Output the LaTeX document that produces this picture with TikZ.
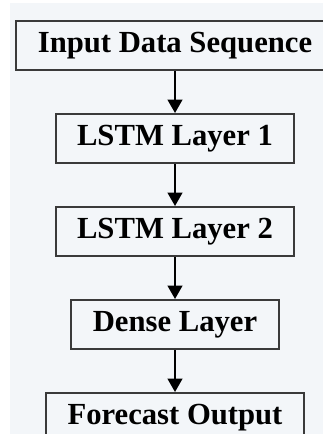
\documentclass[tikz,border=0pt]{standalone}
\usepackage{fontspec}
\setmainfont{Liberation Serif}
\usetikzlibrary{arrows.meta,positioning}
\definecolor{fond}{HTML}{F3F6F9}
\definecolor{ink}{HTML}{3A3A3A}

\begin{document}
\begin{tikzpicture}[x=0.75pt, y=-0.75pt, >={Triangle[length=10pt,width=11pt]},
    font=\fontsize{23}{27}\selectfont\bfseries,
    couche/.style={draw=ink, line width=1.5pt, fill=fond, inner xsep=16pt, inner ysep=0pt, minimum height=36.75pt},
    node distance=31.5pt]
    \useasboundingbox (0,0) rectangle (323,434);
    \fill[fond] (10,3) rectangle (323,434);
    % empilement des couches du modèle
    \node[couche] (entree) at (175,45.5) {Input Data Sequence};
    \node[couche, below=of entree] (lstmA) {LSTM Layer 1};
    \node[couche, below=of lstmA] (lstmB) {LSTM Layer 2};
    \node[couche, below=of lstmB] (dense) {Dense Layer};
    \node[couche, below=of dense] (sortie) {Forecast Output};
    \foreach \a/\b in {entree/lstmA, lstmA/lstmB, lstmB/dense, dense/sortie}
      \draw[->, line width=1.5pt] (\a) -- (\b);
\end{tikzpicture}
\end{document}
